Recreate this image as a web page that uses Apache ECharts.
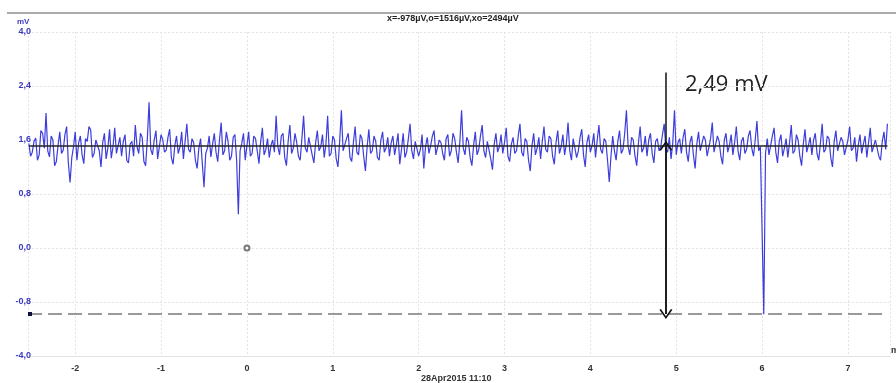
<!DOCTYPE html>
<html>
<head>
<meta charset="utf-8">
<script src="https://cdn.jsdelivr.net/npm/echarts@6.0.0/dist/echarts.min.js"></script>
<style>
html,body{margin:0;padding:0;background:#fff;}
#main{width:896px;height:383px;}
</style>
</head>
<body>
<div id="main"></div>
<script>
// sampling of the trace (seconds)
var t0 = -2.54, dt = 0.02;
// trace values in mV
var signal = [
	1.55,1.36,1.42,1.58,1.63,1.30,1.38,1.74,1.70,1.48,2.00,1.44,1.35,1.66,1.60,1.22,1.28,1.52,1.72,1.40,
	1.45,1.68,1.80,1.26,0.97,1.34,1.50,1.72,1.30,1.56,1.66,1.38,1.25,1.62,1.58,1.80,1.75,1.34,1.40,1.60,
	1.62,1.44,1.20,1.56,1.70,1.32,1.48,1.76,1.33,1.50,1.78,1.40,1.52,1.64,1.36,1.58,1.68,1.30,1.26,1.54,
	1.58,1.36,1.82,1.50,1.40,1.70,1.64,1.28,1.22,1.62,2.16,1.46,1.38,1.60,1.74,1.32,1.30,1.68,1.60,1.42,
	1.45,1.64,1.76,1.34,1.24,1.52,1.66,1.40,1.50,1.72,1.32,1.58,1.84,1.46,1.42,1.62,1.56,1.30,1.18,1.48,
	1.62,1.26,0.90,1.40,1.48,1.66,1.35,1.54,1.70,1.42,1.28,1.60,1.86,1.38,1.44,1.72,1.58,1.30,1.36,1.64,
	1.68,1.30,0.50,1.44,1.55,1.70,1.30,1.52,1.72,1.36,1.40,1.66,1.62,1.44,1.25,1.58,1.78,1.38,1.46,1.62,
	1.34,1.52,1.60,1.42,1.96,1.50,1.38,1.66,1.70,1.34,1.22,1.58,1.82,1.40,1.48,1.70,1.56,1.36,1.30,1.62,
	1.96,1.48,1.42,1.64,1.66,1.38,1.26,1.56,1.74,1.44,1.50,1.68,1.34,1.54,1.96,1.36,1.40,1.66,1.60,1.32,
	1.20,1.58,2.04,1.44,1.46,1.62,1.70,1.34,1.28,1.56,1.80,1.42,1.38,1.68,1.62,1.36,1.14,1.50,1.76,1.40,
	1.44,1.66,1.58,1.34,1.30,1.60,1.72,1.42,1.48,1.64,1.36,1.56,1.66,1.38,1.52,1.70,1.24,1.46,1.70,1.34,
	1.42,1.62,1.84,1.44,1.32,1.58,1.60,1.36,1.46,1.68,1.18,1.50,1.64,1.40,1.52,1.66,1.74,1.38,1.40,1.60,
	1.56,1.40,1.30,1.62,1.68,1.36,1.44,1.70,1.62,1.42,1.26,1.58,2.04,1.48,1.38,1.64,1.58,1.34,1.22,1.52,
	1.72,1.38,1.46,1.66,1.82,1.44,1.34,1.58,1.60,1.32,1.16,1.54,1.70,1.42,1.50,1.68,1.40,1.56,1.78,1.36,
	1.28,1.54,1.64,1.40,1.44,1.66,1.84,1.42,1.36,1.62,1.58,1.30,1.14,1.52,1.70,1.38,1.48,1.64,1.32,1.58,
	1.80,1.46,1.42,1.66,1.62,1.36,1.24,1.56,1.74,1.40,1.50,1.68,1.38,1.54,1.86,1.44,1.30,1.62,1.60,1.34,
	1.44,1.64,1.76,1.38,1.20,1.56,1.68,1.42,1.52,1.70,1.34,1.60,1.82,1.46,1.40,1.62,1.58,1.30,0.98,1.36,
	1.66,1.44,1.30,1.58,1.74,1.40,1.46,1.70,2.04,1.50,1.38,1.64,1.60,1.36,1.22,1.56,1.80,1.42,1.48,1.66,
	1.36,1.60,1.70,1.40,1.26,1.58,1.62,1.44,1.50,1.68,1.84,1.46,1.42,1.64,1.32,1.56,2.04,1.38,1.56,1.62,
	1.40,1.64,1.76,1.42,1.28,1.56,1.66,1.38,1.18,1.54,1.72,1.44,1.46,1.66,1.60,1.36,1.34,1.62,1.86,1.42,
	1.44,1.66,1.58,1.36,1.24,1.60,1.70,1.42,1.52,1.68,1.38,1.56,1.80,1.44,1.30,1.58,1.64,1.40,1.46,1.66,
	1.74,1.48,1.36,1.60,1.88,1.44,1.50,1.52,-0.98,1.40,1.62,1.38,1.40,1.66,1.78,1.42,1.26,1.58,1.68,1.36,
	1.48,1.62,1.34,1.56,1.82,1.40,1.44,1.68,1.60,1.36,1.22,1.54,1.76,1.42,1.52,1.64,1.38,1.60,1.70,1.40,
	1.30,1.56,1.84,1.42,1.46,1.66,1.62,1.34,1.20,1.58,1.74,1.44,1.42,1.64,1.58,1.38,1.36,1.60,1.80,1.44,
	1.48,1.64,1.28,1.52,1.68,1.40,1.54,1.66,1.34,1.56,1.78,1.42,1.40,1.60,1.62,1.36,1.30,1.58,1.72,1.46,
	1.84
];
var yTickLabels = ['-4,0','-0,8','0,0','0,8','1,6','2,4','4,0'];
var meanV = 1.516;      // o
var minV = -0.978;      // x
var arrowT = 4.88;
var arrowTopV = 2.6;
var circlePt = [0, 0];
var xMin = -2.55, xMax = 7.49;
var titleText = 'x=-978µV,o=1516µV,xo=2494µV';
var spanText = '2,49 mV';
var xName = '28Apr2015 11:10';
var mvPerStep = 0.8;

function toY(v){
	return v / mvPerStep;
}

var seriesData = [];
for (var i = 0; i < signal.length; i++) {
	seriesData.push([t0 + dt * i, toY(signal[i])]);
}
var tEnd = t0 + dt * (signal.length - 1);

// open V arrowhead
var chevron = 'path://M0,10 L6,0 L12,10 L10.6,10.8 L6,3 L1.4,10.8 Z';
var lblFont = 'Liberation Sans';

var myChart = echarts.init(document.getElementById('main'), null, {renderer: 'canvas'});
var option = {
	animation: false,
	backgroundColor: '#fff',
	grid: {left: 28, right: 6, top: 32, bottom: 27, outerBoundsMode: 'none', containLabel: false},
	xAxis: {
		type: 'value',
		min: xMin,
		max: xMax,
		splitNumber: 10,
		axisLine: {show: true, onZero: false, lineStyle: {color: '#e2e2e2', width: 1}},
		axisTick: {show: false},
		axisLabel: {
			showMinLabel: false, showMaxLabel: false,
			color: '#333', fontSize: 9, fontWeight: 'bold', fontFamily: lblFont, margin: 8
		},
		splitLine: {show: true, lineStyle: {color: '#e4e4e4', type: [2, 2], width: 1}}
	},
	yAxis: {
		type: 'value',
		min: -2,
		max: 4,
		interval: 1,
		axisLine: {show: false},
		axisTick: {show: false},
		axisLabel: {
			color: '#3a3ac0', fontSize: 9, fontWeight: 'bold', fontFamily: lblFont, margin: -3,
			verticalAlign: 'middle', padding: [0, 0, 5, 0],
			formatter: function(v){ return yTickLabels[Math.round(v) + 2]; }
		},
		splitLine: {show: true, lineStyle: {color: '#e4e4e4', type: [2, 2], width: 1}}
	},
	series: [{
		type: 'line',
		data: seriesData,
		showSymbol: false,
		sampling: false,
		lineStyle: {color: '#3d3ddc', width: 1.2},
		z: 3,
		markLine: {
			silent: true,
			symbol: 'none',
			label: {show: false},
			data: [
				[{coord: [t0, toY(meanV)], lineStyle: {color: '#222', width: 1.5, type: 'solid'}},
				 {coord: [tEnd, toY(meanV)]}],
				[{coord: [xMin, toY(minV)], lineStyle: {color: '#9a9a9a', width: 2, type: [14, 6]}},
				 {coord: [tEnd, toY(minV)]}]
			]
		}
	}, {
		type: 'line',
		data: [],
		z: 5,
		markLine: {
			silent: true,
			label: {show: false},
			lineStyle: {color: '#111', width: 1.5, type: 'solid'},
			data: [
				[{coord: [arrowT, toY(arrowTopV)], symbol: 'none'},
				 {coord: [arrowT, toY(minV)], symbol: chevron, symbolSize: [13, 10]}],
				[{coord: [arrowT, toY(minV)], symbol: 'none'},
				 {coord: [arrowT, toY(meanV)], symbol: chevron, symbolSize: [13, 10]}]
			]
		},
		markPoint: {
			silent: true,
			label: {show: false},
			data: [
				{coord: [circlePt[0], toY(circlePt[1])], symbol: 'emptyCircle', symbolSize: 5,
				 itemStyle: {color: '#777', borderColor: '#777', borderWidth: 1}},
				{coord: [xMin, toY(minV)], symbol: 'rect', symbolSize: 4, symbolOffset: [2, 0],
				 itemStyle: {color: '#101040'}}
			]
		}
	}],
	graphic: [
		{type: 'line', shape: {x1: 7, y1: 13, x2: 896, y2: 13}, style: {stroke: '#aaa', lineWidth: 2}},
		{type: 'text', left: 387, top: 14, style: {text: titleText, fill: '#222', font: 'bold 9px "Liberation Sans"'}},
		{type: 'text', left: 17, top: 18, style: {text: 'mV', fill: '#3a3ac0', font: 'bold 8px "Liberation Sans"'}},
		{type: 'text', left: 685, top: 74, style: {text: spanText, fill: '#222', font: '22px "Open Sans"'}},
		{type: 'text', left: 891, top: 346, style: {text: 'ms', fill: '#333', font: 'bold 9px "Liberation Sans"'}},
		{type: 'text', left: 421, top: 374, style: {text: xName, fill: '#333', font: 'bold 9px "Liberation Sans"'}}
	]
};
myChart.setOption(option);
</script>
</body>
</html>
